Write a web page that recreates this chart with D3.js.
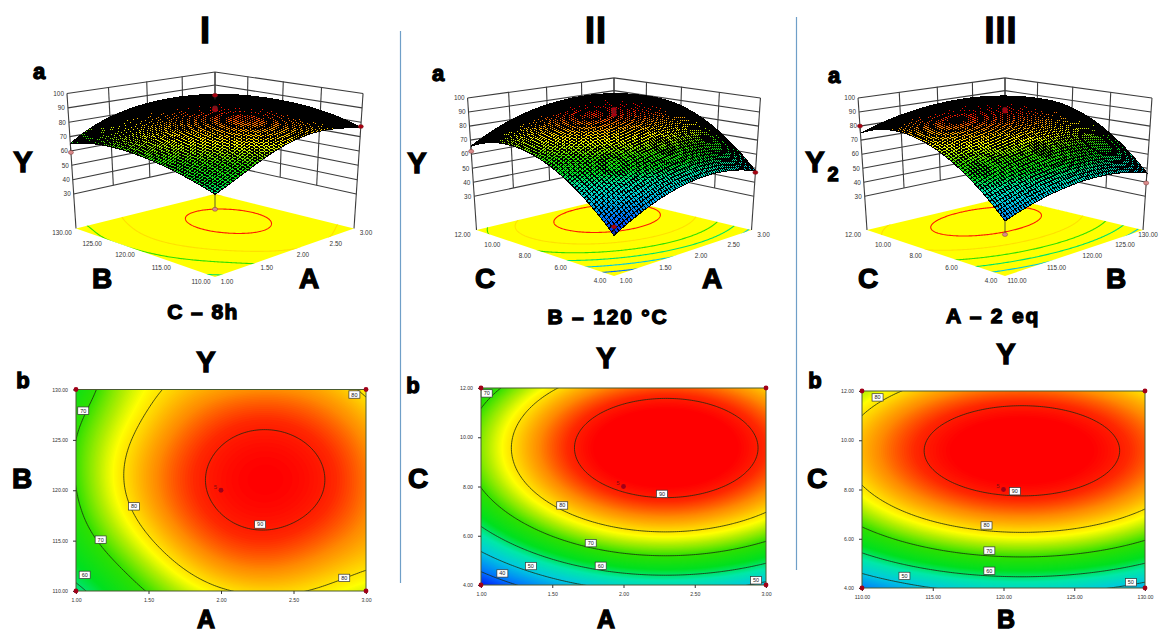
<!DOCTYPE html>
<html>
<head>
<meta charset="utf-8">
<script src="https://cdn.jsdelivr.net/npm/d3@7"></script>
<style>
  html, body { margin: 0; padding: 0; background: #fff; }
  svg { display: block; font-family: "Liberation Sans", Arial, sans-serif; }
  .big { font-weight: bold; fill: #000; stroke: #000; stroke-width: 1.3px; text-anchor: middle; }
  .small { fill: #333; }
</style>
</head>
<body>
<svg id="chart" width="1159" height="634"></svg>
<script>
// tick values of the three factors
const ticksA = [1, 1.5, 2, 2.5, 3];
const ticksB = [110, 115, 120, 125, 130];
const ticksC = [4, 6, 8, 10, 12];
const ticksY = [30, 40, 50, 60, 70, 80, 90, 100];
const contourLevels = [40, 50, 60, 70, 80, 90];

// Y at the tick crossings. rows = y factor ascending, columns = x factor ascending
const gridI = [
  [58.5, 70.5, 79.3, 80.5, 76.5],
  [66.0, 79.3, 87.7, 88.3, 83.4],
  [69.9, 83.7, 90.9, 91.6, 85.8],
  [70.0, 82.5, 89.6, 90.3, 84.5],
  [65.0, 78.5, 83.9, 84.5, 78.8]
];
const gridII = [
  [32.4, 46.0, 53.2, 53.8, 48.0],
  [56.6, 70.2, 77.4, 78.0, 72.2],
  [70.2, 83.8, 91.0, 91.6, 85.8],
  [73.2, 86.8, 94.0, 94.6, 88.8],
  [65.5, 79.2, 86.3, 87.0, 81.1]
];
const gridIII = [
  [41.8, 49.9, 53.4, 52.3, 46.6],
  [65.8, 74.0, 77.5, 76.4, 70.6],
  [79.3, 87.5, 91.0, 89.9, 84.1],
  [82.4, 90.5, 94.0, 92.9, 87.2],
  [74.9, 83.0, 86.5, 85.4, 79.7]
];

// contour labels: [x factor, y factor, text]
const labelsI = [[1.05, 127.9, "70"], [1.40, 118.4, "80"], [1.17, 115.1, "70"], [1.06, 111.6, "60"], [2.27, 116.6, "90"], [2.92, 129.5, "80"], [2.85, 111.3, "80"]];
const labelsII = [[1.04, 11.78, "70"], [1.57, 7.23, "80"], [1.77, 5.70, "70"], [1.84, 4.78, "60"], [1.35, 4.77, "50"], [1.15, 4.47, "40"], [2.27, 7.70, "90"], [2.93, 4.19, "50"]];
const labelsIII = [[111.1, 11.74, "80"], [120.8, 7.93, "90"], [118.8, 6.54, "80"], [119, 5.52, "70"], [119, 4.70, "60"], [113, 4.49, "50"], [129, 4.23, "50"]];

// design points on the 3D plots: [x factor, y factor, Y]
const pointsI = [[1, 110, 49], [1, 130, 59], [3, 110, 77], [3, 130, 82], [2, 120, 90], [2, 120, 89], [2, 120, 88.5]];
const pointsII = [[1, 4, 38], [1, 12, 62], [3, 4, 47], [2, 8, 92], [2, 8, 90], [2, 8, 88]];
const pointsIII = [[110, 4, 33], [110, 12, 80], [130, 4, 39.5], [120, 8, 92], [120, 8, 90.5]];

// heat colours, blue (low) to red (high)
const heatValues = [30, 40, 50, 57, 63, 70, 75, 78, 81, 85, 89, 92];
const heatColours = ["#0000f0", "#0070ff", "#00c8e0", "#00e8a8", "#00e020", "#30e000", "#b0ee00", "#ffff00", "#ffd000", "#ff8800", "#ff2800", "#ff0000"];
const heat = d3.scaleLinear().domain(heatValues).range(heatColours).clamp(true);

const svg = d3.select("#chart");
const defs = svg.append("defs");
defs.append("filter").attr("id", "soft").append("feGaussianBlur").attr("stdDeviation", 0.35);

// Y of the floor level (w = 0) and top of the box (w = 1)
const wScale = d3.scaleLinear().domain([6, 100]).range([0, 1]);

const panels = [
  { grid: gridI, xTicks: ticksA, yTicks: ticksB, labels: labelsI, points: pointsI,
    box: { cx: 215, floorY: 228.5, halfW: 139, wallH: 135, k: 239 },
    plot: { left: 76, right: 366, top: 389.5, bottom: 591 } },
  { grid: gridII, xTicks: ticksA, yTicks: ticksC, labels: labelsII, points: pointsII,
    box: { cx: 614, floorY: 230, halfW: 137.5, wallH: 132, k: 227 },
    plot: { left: 481, right: 766, top: 388, bottom: 585 } },
  { grid: gridIII, xTicks: ticksB, yTicks: ticksC, labels: labelsIII, points: pointsIII,
    box: { cx: 1005, floorY: 230, halfW: 138, wallH: 132, k: 227 },
    plot: { left: 862, right: 1145, top: 391, bottom: 588 } }
];

// smooth value between the tick crossings, u and v are fractions of the axes (0..1)
function lagrange(u) {
  let nodes = [0, 0.25, 0.5, 0.75, 1];
  return nodes.map(function(ni, i) {
    let w = 1;
    nodes.forEach(function(nj, j) { if (j != i) w *= (u - nj) / (ni - nj); });
    return w;
  });
}
function surfaceValue(grid, u, v) {
  let wu = lagrange(u), wv = lagrange(v), sum = 0;
  for (let r = 0; r < 5; r++) for (let c = 0; c < 5; c++) sum += wv[r] * wu[c] * grid[r][c];
  return sum;
}

// perspective of the box: a along the right floor edge, b along the left floor edge, w up
const D = 5.93;
function project(box, a, b, w) {
  let t = a + b - 1;
  let s = D / (D + t);
  let x = box.cx + box.halfW * (a - b) * s * (1 + 0.065 * w);
  let y = box.floorY + box.k * (s - 1) - box.wallH * (1 - 0.096 * t) * w;
  return [x, y];
}

// field for d3.contours, a bit wider than the axes so no contour runs along the border
const NX = 160, NY = 120, PAD = 0.02;
function fieldOf(grid) {
  let values = new Array(NX * NY);
  for (let j = 0; j < NY; j++) for (let i = 0; i < NX; i++) {
    values[i + j * NX] = surfaceValue(grid, indexToFrac(i + 0.5, NX), indexToFrac(j + 0.5, NY));
  }
  return values;
}
function indexToFrac(c, n) { return (c - 0.5) / (n - 1) * (1 + 2 * PAD) - PAD; }

function bigText(x, y, str, size, spacing) {
  return svg.append("text").attr("class", "big").attr("x", x).attr("y", y)
    .attr("dy", "0.36em").style("font-size", size + "px")
    .style("letter-spacing", (spacing || 0) + "px").text(str);
}

function ringPath(rings, toPx) {
  return rings.map(function(ring) {
    return "M" + ring.map(function(p) { return toPx(p).join(","); }).join("L") + "Z";
  }).join("");
}

function draw3D(p, idx) {
  let box = p.box;
  let g = svg.append("g");
  let xFrac = d3.scaleLinear().domain(d3.extent(p.xTicks)).range([0, 1]);
  let yFrac = d3.scaleLinear().domain(d3.extent(p.yTicks)).range([0, 1]);
  let corner = function(a, b, w) { return project(box, a, b, w).join(","); };
  let line = function(a1, b1, w1, a2, b2, w2) {
    g.append("path").attr("d", "M" + corner(a1, b1, w1) + "L" + corner(a2, b2, w2))
      .attr("stroke", "#3c3c3c").attr("stroke-width", 1.1).attr("fill", "none");
  };

  // back walls
  ticksY.forEach(function(v) {
    let w = wScale(v);
    line(0, 1, w, 1, 1, w);
    line(1, 1, w, 1, 0, w);
  });
  let fracs = [0, 0.25, 0.5, 0.75, 1];
  let w30 = wScale(30);
  fracs.forEach(function(f) {
    let low = (f == 0 ? 0 : w30);
    line(f, 1, f == 1 ? w30 : low, f, 1, 1);
    line(1, f, low, 1, f, 1);
  });

  // floor
  let clipId = "floor" + idx;
  let floorD = "M" + corner(0, 0, 0) + "L" + corner(1, 0, 0) + "L" + corner(1, 1, 0) + "L" + corner(0, 1, 0) + "Z";
  defs.append("clipPath").attr("id", clipId).append("path").attr("d", floorD);
  g.append("path").attr("d", floorD).attr("fill", "#ffff00");
  let toFloor = function(c) {
    return project(box, indexToFrac(c[0], NX), indexToFrac(c[1], NY), 0);
  };
  g.append("g").attr("clip-path", "url(#" + clipId + ")")
    .selectAll("path")
    .data(d3.contours().size([NX, NY]).thresholds(contourLevels)(p.field))
    .join("path")
    .attr("d", function(d) { return d.coordinates.map(function(poly) { return ringPath(poly, toFloor); }).join(""); })
    .attr("fill", "none")
    .attr("stroke", function(d) { return heat(d.value); })
    .attr("stroke-width", 1.1);

  // surface mesh, painted from the back corner to the front corner
  const N = 66;
  let cells = [];
  for (let i = N - 1; i >= 0; i--) for (let j = N - 1; j >= 0; j--) cells.push([i, j]);
  let vertex = function(i, j) {
    let a = i / N, b = j / N;
    return project(box, a, b, wScale(surfaceValue(p.grid, a, b))).join(",");
  };
  g.append("g").attr("filter", "url(#soft)").selectAll("path")
    .data(cells)
    .join("path")
    .attr("d", function(d) {
      let i = d[0], j = d[1];
      return "M" + vertex(i, j) + "L" + vertex(i + 1, j) + "L" + vertex(i + 1, j + 1) + "L" + vertex(i, j + 1) + "Z";
    })
    .attr("fill", function(d) { return heat(surfaceValue(p.grid, (d[0] + 0.5) / N, (d[1] + 0.5) / N)); })
    .attr("stroke", "#000")
    .attr("stroke-width", 1)
    .attr("shape-rendering", "crispEdges");

  // design points
  p.points.forEach(function(d) {
    let a = xFrac(d[0]), b = yFrac(d[1]);
    let sv = surfaceValue(p.grid, a, b);
    let q = project(box, a, b, wScale(d[2]));
    let s = project(box, a, b, wScale(sv));
    g.append("line").attr("x1", q[0]).attr("y1", q[1]).attr("x2", s[0]).attr("y2", s[1])
      .attr("stroke", "#333").attr("stroke-width", 0.8);
    g.append("ellipse").attr("cx", q[0]).attr("cy", q[1]).attr("rx", 2.6).attr("ry", 2)
      .attr("fill", d[2] < sv - 3 ? "#d98a8a" : "#a80010").attr("stroke", "#702020").attr("stroke-width", 0.4);
  });

  // tick labels
  let small = function(x, y, str, anchor) {
    g.append("text").attr("class", "small").attr("x", x).attr("y", y).attr("text-anchor", anchor || "middle")
      .attr("dy", "0.36em").style("font-size", "6.4px").text(str);
  };
  p.xTicks.forEach(function(v, i) {
    let q = project(box, i / 4, 0, 0);
    small(Math.min(q[0] + 12, 1148), q[1] + 4.5, d3.format(".2f")(v));
  });
  p.yTicks.forEach(function(v, i) {
    let q = project(box, 0, i / 4, 0);
    small(q[0] - 14, q[1] + 4.5, d3.format(".2f")(v));
  });
  ticksY.forEach(function(v) {
    let q = project(box, 0, 1, wScale(v));
    small(q[0] - 3, q[1], v, "end");
  });
}

function draw2D(p, idx) {
  let r = p.plot;
  let x = d3.scaleLinear().domain(d3.extent(p.xTicks)).range([r.left, r.right]);
  let y = d3.scaleLinear().domain(d3.extent(p.yTicks)).range([r.bottom, r.top]);
  let g = svg.append("g");
  let clipId = "plot" + idx;
  defs.append("clipPath").attr("id", clipId).append("rect")
    .attr("x", r.left).attr("y", r.top).attr("width", r.right - r.left).attr("height", r.bottom - r.top);

  let toPx = function(c) {
    return [x.range()[0] + indexToFrac(c[0], NX) * (r.right - r.left),
            y.range()[0] - indexToFrac(c[1], NY) * (r.bottom - r.top)];
  };
  let pathOf = function(d) {
    return d.coordinates.map(function(poly) { return ringPath(poly, toPx); }).join("");
  };

  let inner = g.append("g").attr("clip-path", "url(#" + clipId + ")");
  inner.append("g").selectAll("path")
    .data(d3.contours().size([NX, NY]).thresholds(d3.range(20, 97, 0.25))(p.field))
    .join("path")
    .attr("d", pathOf)
    .attr("fill", function(d) { return heat(d.value); });
  inner.append("g").selectAll("path")
    .data(d3.contours().size([NX, NY]).thresholds(contourLevels)(p.field))
    .join("path")
    .attr("d", pathOf)
    .attr("fill", "none")
    .attr("stroke", "#1c2a10")
    .attr("stroke-width", 0.8);

  g.append("rect").attr("x", r.left).attr("y", r.top).attr("width", r.right - r.left).attr("height", r.bottom - r.top)
    .attr("fill", "none").attr("stroke", "#4a5a30").attr("stroke-width", 1);

  // axes
  let xAxis = g.append("g").attr("transform", `translate(0,${r.bottom})`)
    .call(d3.axisBottom(x).tickValues(p.xTicks).tickFormat(d3.format(".2f")).tickSize(3).tickPadding(4));
  let yAxis = g.append("g").attr("transform", `translate(${r.left},0)`)
    .call(d3.axisLeft(y).tickValues(p.yTicks).tickFormat(d3.format(".2f")).tickSize(3).tickPadding(5));
  [xAxis, yAxis].forEach(function(a) {
    a.select(".domain").remove();
    a.selectAll("text").style("font-size", "5.2px").style("font-family", "inherit").attr("fill", "#333");
    a.selectAll("line").attr("stroke", "#333");
  });

  // contour labels
  let lab = g.append("g").selectAll("g").data(p.labels).join("g")
    .attr("transform", function(d) { return `translate(${x(d[0])},${y(d[1])})`; });
  lab.append("rect").attr("x", -5.5).attr("y", -3.7).attr("width", 11).attr("height", 7.4)
    .attr("fill", "#fff").attr("stroke", "#333").attr("stroke-width", 0.7);
  lab.append("text").attr("text-anchor", "middle").attr("dy", "0.36em").style("font-size", "5.5px")
    .attr("fill", "#222").text(function(d) { return d[2]; });

  // design points: the four corners and the centre (5 runs)
  let xs = d3.extent(p.xTicks), ys = d3.extent(p.yTicks);
  let corners = [[xs[0], ys[0]], [xs[0], ys[1]], [xs[1], ys[0]], [xs[1], ys[1]], [p.xTicks[2], p.yTicks[2]]];
  g.append("g").selectAll("circle").data(corners).join("circle")
    .attr("cx", function(d) { return x(d[0]); })
    .attr("cy", function(d) { return y(d[1]); })
    .attr("r", 2.4)
    .attr("fill", "#a00018");
  g.append("text").attr("x", x(p.xTicks[2]) - 4).attr("y", y(p.yTicks[2]) - 1.5).attr("text-anchor", "end")
    .style("font-size", "6px").attr("fill", "#801010").text("5");
}

panels.forEach(function(p, i) {
  p.field = fieldOf(p.grid);
  draw3D(p, i);
  draw2D(p, i);
});

// divider lines
svg.append("line").attr("x1", 400.5).attr("x2", 400.5).attr("y1", 31).attr("y2", 583).attr("stroke", "#6f9fc8").attr("stroke-width", 1.2);
svg.append("line").attr("x1", 796.5).attr("x2", 796.5).attr("y1", 17).attr("y2", 570).attr("stroke", "#6f9fc8").attr("stroke-width", 1.2);

// titles and factor letters
bigText(205, 30, "I", 36); bigText(596, 30, "II", 36, 1); bigText(1001, 30, "III", 36, 1);
bigText(39, 71, "a", 22); bigText(438, 73, "a", 22); bigText(834, 75, "a", 22);
bigText(23, 162, "Y", 29); bigText(417, 163, "Y", 29); bigText(815, 162, "Y", 29); bigText(833, 174, "2", 20);
bigText(102, 278, "B", 28); bigText(309, 278, "A", 28);
bigText(485, 278, "C", 28); bigText(712, 278, "A", 28);
bigText(868, 278, "C", 28); bigText(1116, 278, "B", 28);
bigText(203, 311, "C – 8h", 21, 1.4); bigText(608, 316, "B – 120 °C", 21, 1.8); bigText(993, 315, "A – 2 eq", 21, 1.8);
bigText(206, 362, "Y", 29); bigText(606, 358, "Y", 29); bigText(1006, 354, "Y", 29);
bigText(23, 380, "b", 22); bigText(413, 385, "b", 22); bigText(815, 380, "b", 22);
bigText(22, 478, "B", 28); bigText(418, 478, "C", 28); bigText(817, 478, "C", 28);
bigText(206, 619, "A", 25); bigText(606, 619, "A", 25); bigText(1006, 619, "B", 25);
</script>
</body>
</html>
